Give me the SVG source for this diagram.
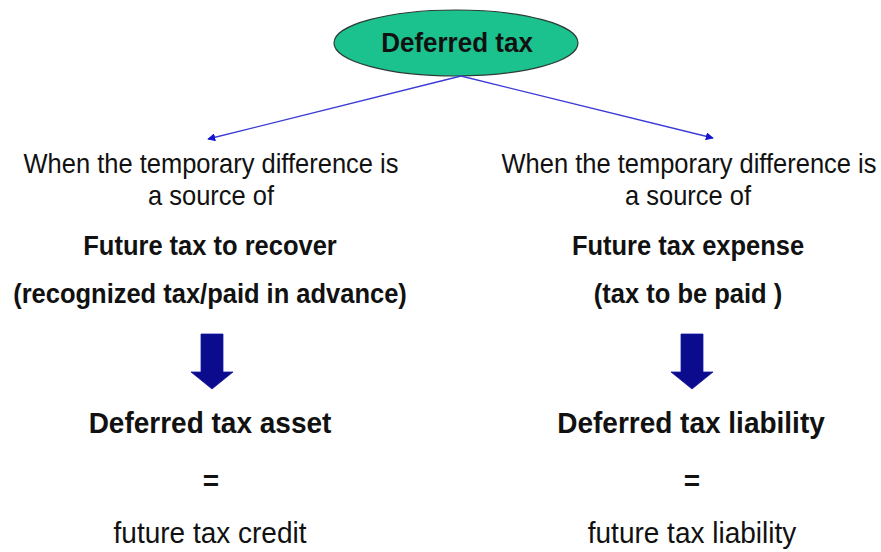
<svg xmlns="http://www.w3.org/2000/svg" width="881" height="552" viewBox="0 0 881 552">
<style>
.t{font-family:"Liberation Sans",Arial,sans-serif;fill:#111;text-anchor:middle}
.r{font-size:25.5px;font-weight:normal}
.b{font-size:25.5px;font-weight:bold}
.bb{font-size:28px;font-weight:bold}
.rr{font-size:28px;font-weight:normal}
.conn{stroke:#3a3ad6;stroke-width:1.3;fill:none;marker-end:url(#ah)}
.blk{fill:#0b0b8e;stroke:#1a1aa0;stroke-width:0.8}
</style>
<defs>
<marker id="ah" viewBox="0 0 10 10" refX="9" refY="5" markerWidth="8" markerHeight="8" markerUnits="userSpaceOnUse" orient="auto">
<path d="M0,0 L10,5 L0,10 Z" fill="#1414d0"/>
</marker>
</defs>
<rect width="881" height="552" fill="#fff"/>
<g id="root">
<ellipse cx="456" cy="43" rx="122" ry="33" fill="#1cc28e" stroke="#2b3b35" stroke-width="1.2"/>
<text class="t" transform="translate(457,52) scale(1,1.08)" style="font-size:26px;font-weight:bold">Deferred tax</text>
</g>
<g id="connectors">
<line class="conn" x1="461" y1="76" x2="208" y2="139"/>
<line class="conn" x1="461" y1="76" x2="713" y2="138"/>
</g>
<g id="left-condition">
<text class="t r" transform="translate(211,173) scale(1,1.1)">When the temporary difference is</text>
<text class="t r" transform="translate(211,205) scale(1,1.1)">a source of</text>
</g>
<g id="left-source">
<text class="t b" transform="translate(210,255) scale(1,1.08)">Future tax to recover</text>
<text class="t b" transform="translate(210,303) scale(1,1.08)">(recognized tax/paid in advance)</text>
</g>
<g id="left-arrow">
<path class="blk" d="M201,334 H223 V372 H233 L212,389 L191,372 H201 Z"/>
</g>
<g id="left-result">
<text class="t bb" transform="translate(210,433) scale(1,1.06)">Deferred tax asset</text>
<text class="t bb" x="211" y="490">=</text>
<text class="t rr" transform="translate(210,543) scale(1,1.06)">future tax credit</text>
</g>
<g id="right-condition">
<text class="t r" transform="translate(689,173) scale(1,1.1)">When the temporary difference is</text>
<text class="t r" transform="translate(688,205) scale(1,1.1)">a source of</text>
</g>
<g id="right-source">
<text class="t b" transform="translate(688,255) scale(1,1.08)">Future tax expense</text>
<text class="t b" transform="translate(688,303) scale(1,1.08)">(tax to be paid )</text>
</g>
<g id="right-arrow">
<path class="blk" d="M681,334 H703 V372 H713 L692,389 L671,372 H681 Z"/>
</g>
<g id="right-result">
<text class="t bb" transform="translate(691,433) scale(1,1.06)">Deferred tax liability</text>
<text class="t bb" x="692" y="490">=</text>
<text class="t rr" transform="translate(692,543) scale(1,1.06)">future tax liability</text>
</g>
</svg>
